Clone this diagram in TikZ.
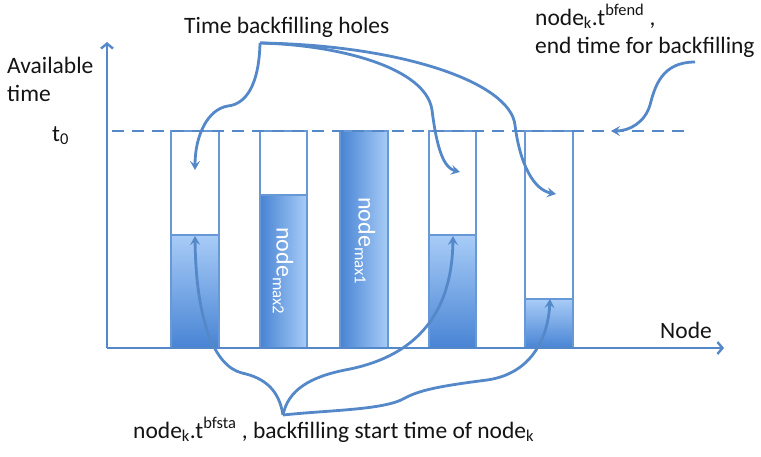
\documentclass[tikz,border=0pt]{standalone}
\usepackage{fontspec}
\setmainfont{Carlito}
\usetikzlibrary{arrows.meta}
\definecolor{lineblue}{RGB}{84,136,200}
\definecolor{edgeblue}{RGB}{104,152,214}
\definecolor{darkfill}{RGB}{72,132,212}
\definecolor{lightfill}{RGB}{168,204,247}
\definecolor{txt}{RGB}{20,20,20}
\begin{document}
\begin{tikzpicture}[x=1pt,y=-1pt,
  axtip/.tip={Straight Barb[length=5pt,width=12pt,line width=2.4pt]},
  ctip/.tip={Stealth[length=9pt,width=10pt,inset=3.5pt]},
  axisline/.style={line width=2.6pt,draw=lineblue,-axtip},
  guide/.style={line width=2.6pt,draw=lineblue,dash pattern=on 12pt off 8pt},
  conn/.style={line width=2.8pt,draw=lineblue,-ctip},
  barframe/.style={draw=edgeblue,line width=1.5pt,fill=white},
  vfill/.style={draw=edgeblue,line width=1.5pt,top color=lightfill,bottom color=darkfill},
  hfill/.style={draw=edgeblue,line width=1.5pt,left color=darkfill,right color=lightfill},
  lbl/.style={inner sep=0pt,text=txt,font=\fontsize{23.5}{28}\selectfont},
  barlbl/.style={inner sep=0pt,text=white,rotate=-90,anchor=west,font=\fontsize{24}{28}\selectfont}]
\useasboundingbox (0,0) rectangle (761,456);
\fill[white] (0,0) rectangle (761,456);

% bars
\draw[barframe] (171,131) rectangle (219,348);
\draw[vfill] (171,235) rectangle (219,348);
\draw[barframe] (260,131) rectangle (307,348);
\draw[hfill] (260,195) rectangle (307,348);
\draw[hfill] (340,131) rectangle (388,348);
\draw[barframe] (429,131) rectangle (476,348);
\draw[vfill] (429,235) rectangle (476,348);
\draw[barframe] (525,131) rectangle (573,348);
\draw[vfill] (525,299) rectangle (573,348);

\node[barlbl] (max2) at (283,227) {node\textsubscript{max2}};
\node[barlbl] (max1) at (365,197) {node\textsubscript{max1}};

% axes
\coordinate (origin) at (107,348);
\coordinate (ytop) at (107,42);
\coordinate (xend) at (724,348);
\draw[axisline] (origin) -- (ytop);
\draw[axisline] (origin) -- (xend);
\coordinate (dstart) at (112,131);
\coordinate (dend) at (688,131);
\draw[guide] (dstart) -- (dend);

% labels
\node[lbl,anchor=base west] (avail) at (7,73) {Available};
\node[lbl,anchor=base west] (time) at (7,101) {time};
\node[lbl,anchor=base west] (t0) at (52,141) {t\textsubscript{0}};
\node[lbl,anchor=base west] (nodeax) at (660,338) {Node};
\node[lbl,anchor=base west] (holes) at (184,33) {Time backfilling holes};
\node[lbl,anchor=base west] (bfend) at (535,25) {node\textsubscript{k}.t\textsuperscript{bfend} ,};
\node[lbl,anchor=base west] (endtxt) at (535,53) {end time for backfilling};
\node[lbl,anchor=base west] (bfsta) at (133,438) {node\textsubscript{k}.t\textsuperscript{bfsta} , backfilling start time of node\textsubscript{k}};

% connector anchors
\coordinate (hsrc) at (260,43);
\coordinate (h1) at (195,170);
\coordinate (h2) at (460,172);
\coordinate (h3) at (556,194);
\coordinate (esrc) at (695,62);
\coordinate (e1) at (611,131);
\coordinate (ssrc) at (283,415);
\coordinate (s1) at (195,236);
\coordinate (s2) at (453,236);
\coordinate (s3) at (550,299);

\draw[conn] (hsrc) .. controls (259,85) and (246,104) .. (228,106)
  .. controls (208,109) and (195,135) .. (h1);
\draw[conn] (hsrc) .. controls (340,45) and (426,68) .. (432,110)
  .. controls (437,150) and (444,168) .. (h2);
\draw[conn] (hsrc) .. controls (400,45) and (510,82) .. (515,125)
  .. controls (520,165) and (534,190) .. (h3);
\draw[conn] (esrc) .. controls (662,62) and (655,86) .. (650,105)
  .. controls (645,122) and (630,131) .. (e1);
\draw[conn] (ssrc) .. controls (279,390) and (265,378) .. (242,373)
  .. controls (214,366) and (196,320) .. (s1);
\draw[conn] (ssrc) .. controls (288,390) and (310,377) .. (345,370)
  .. controls (410,358) and (452,320) .. (s2);
\draw[conn] (ssrc) .. controls (330,410) and (385,410) .. (405,398)
  .. controls (420,390) and (440,386) .. (487,380)
  .. controls (530,374) and (548,340) .. (s3);
\end{tikzpicture}
\end{document}
